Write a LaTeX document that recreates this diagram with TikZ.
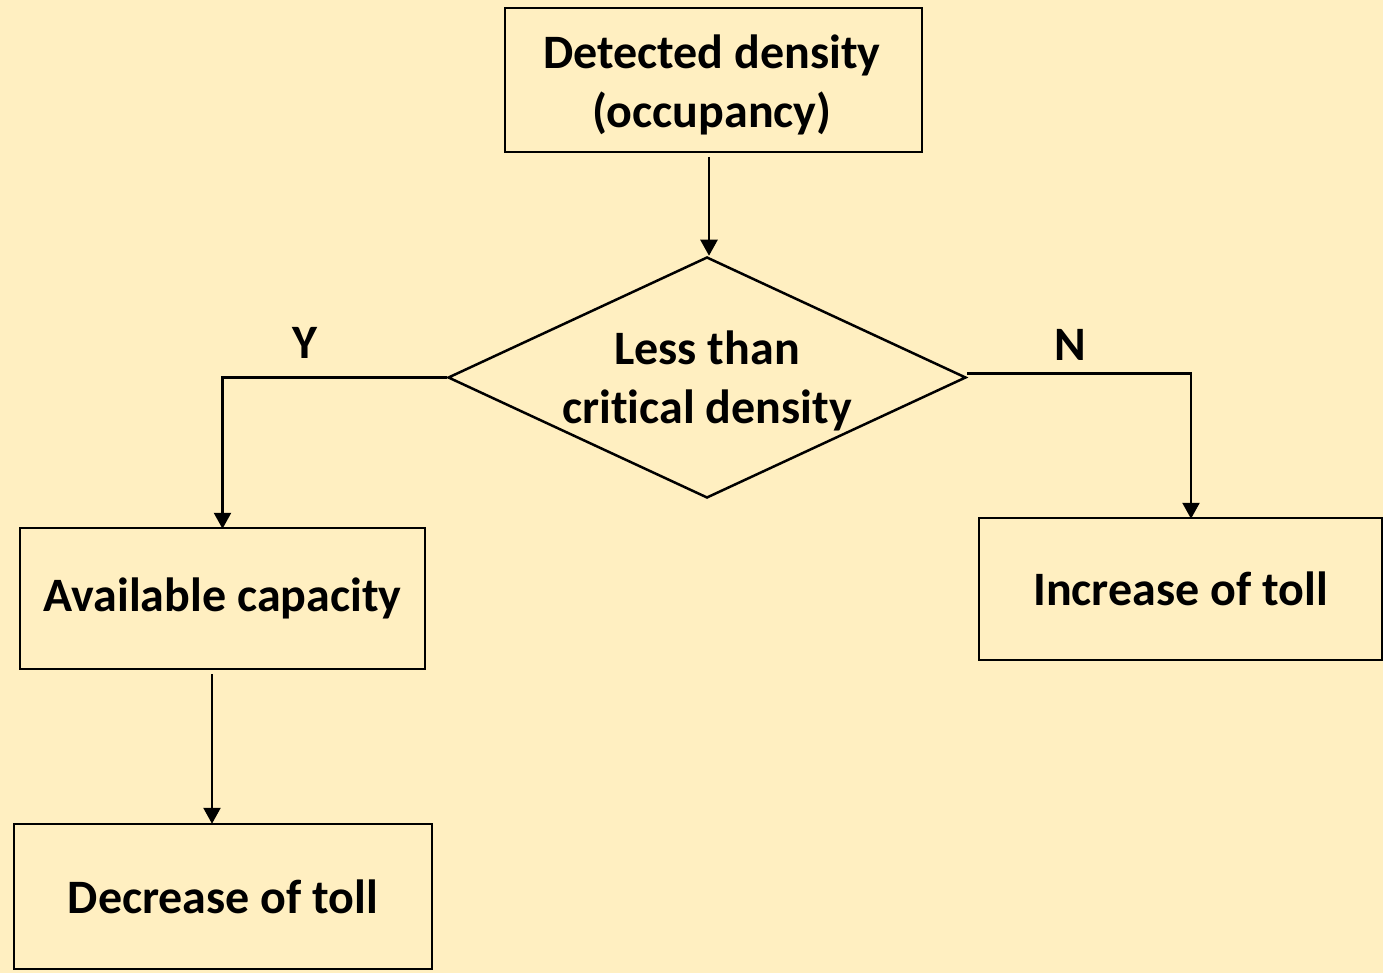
\documentclass[tikz,border=0pt]{standalone}
\usepackage{fontspec}
\setmainfont{Carlito}[Ligatures=NoCommon]
\usetikzlibrary{arrows.meta,shapes.geometric}
\definecolor{bg}{HTML}{FFEFC1}
\begin{document}
\begin{tikzpicture}[x=1pt,y=-1pt,
  txt/.style={font=\fontsize{48}{59}\selectfont\bfseries,align=center,inner sep=0pt},
  arr/.style={line width=2.5pt,-{Triangle[length=16pt,width=17pt]}}]
\fill[bg] (0,0) rectangle (1383,973);
\useasboundingbox (0,0) rectangle (1383,973);
\node[draw,line width=2.5pt,minimum width=417pt,minimum height=144pt] (top) at (713.5,80) {};
\node[txt] at (712,85) {Detected density\\(occupancy)};
\node[draw,line width=2.5pt,diamond,minimum width=518pt,minimum height=241pt,inner sep=0pt] (dec) at (707,377.5) {};
\node[txt] at (707,381) {Less than\\critical density};
\node[draw,line width=2.5pt,minimum width=405pt,minimum height=141pt] (avail) at (222.5,598.5) {};
\node[txt] at (avail.center) {Available capacity};
\node[draw,line width=2.5pt,minimum width=418pt,minimum height=145pt] (decr) at (223,896.5) {};
\node[txt] at (decr.center) {Decrease of toll};
\node[draw,line width=2.5pt,minimum width=403pt,minimum height=142pt] (incr) at (1180.5,589) {};
\node[txt] at (incr.center) {Increase of toll};
\node[txt] (ylab) at (305,343) {Y};
\node[txt] (nlab) at (1070,345) {N};
\coordinate (ts) at (709,157);
\draw[arr] (ts) -- (ts |- dec.north);
\draw[arr] (dec.west) -| ([yshift=-2pt]avail.north);
\draw[arr] ([yshift=4pt]dec.east) -| ([xshift=10.5pt,yshift=-2pt]incr.north);
\draw[arr] ([xshift=-10.5pt,yshift=-4pt]avail.south) -- ([xshift=-11pt,yshift=-1pt]decr.north);
\end{tikzpicture}
\end{document}
